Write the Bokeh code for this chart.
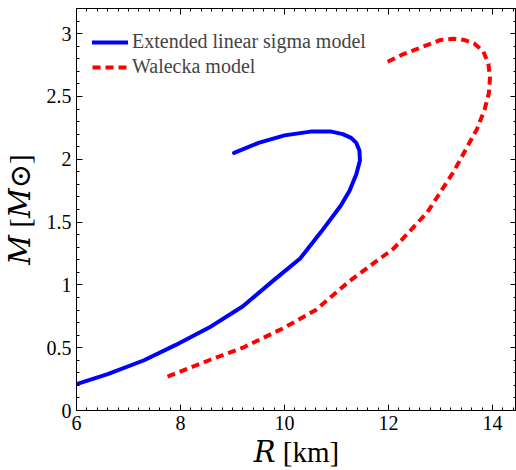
from bokeh.plotting import figure
from bokeh.models import Range1d, SingleIntervalTicker, LinearAxis, Legend, LegendItem
from bokeh.embed import file_html
from bokeh.resources import INLINE

# ---- data ----
sigma_R = [6.0, 6.6, 7.3, 7.9, 8.55, 9.2, 9.8, 10.3, 10.7, 11.08, 11.25, 11.38, 11.45, 11.44, 11.38, 11.28, 11.12, 10.9, 10.5, 10.0, 9.5, 9.03]
sigma_M = [0.21, 0.29, 0.40, 0.52, 0.66, 0.83, 1.04, 1.21, 1.42, 1.63, 1.75, 1.88, 1.99, 2.07, 2.13, 2.17, 2.20, 2.22, 2.22, 2.19, 2.13, 2.05]

walecka_R = [7.75, 8.55, 9.2, 10.0, 10.6, 11.25, 12.1, 12.75, 13.25, 13.7, 13.85, 13.93, 13.95, 13.92, 13.82, 13.65, 13.45, 13.25, 13.0, 12.75, 12.25, 11.9]
walecka_M = [0.27, 0.40, 0.50, 0.66, 0.80, 1.03, 1.29, 1.58, 1.90, 2.24, 2.40, 2.53, 2.65, 2.76, 2.86, 2.92, 2.95, 2.96, 2.95, 2.91, 2.83, 2.76]

y_ticks = [0, 0.5, 1, 1.5, 2, 2.5, 3]
y_tick_labels = ["0", "0.5", "1", "1.5", "2", "2.5", "3"]
legend_labels = ["Extended linear sigma model", "Walecka model"]
x_title = "\U0001D445 [km]"
y_title = "\U0001D440 [\U0001D440\u2299]"

SERIF = "Liberation Serif"
TITLE_FONT = "'Liberation Serif', 'DejaVu Serif', serif"

p = figure(width=516, height=470, output_backend="svg", toolbar_location=None,
           x_range=Range1d(6, 14.46), y_range=Range1d(0, 3.2),
           min_border_left=76, min_border_right=0, min_border_top=8, min_border_bottom=57)
p.background_fill_color = "white"
p.border_fill_color = "white"
p.outline_line_color = "black"
p.outline_line_width = 1
p.grid.visible = False

def style_axis(ax, interval, nminor, labels=True):
    ax.ticker = SingleIntervalTicker(interval=interval, num_minor_ticks=nminor)
    ax.axis_line_color = "black"
    ax.major_tick_in = 6
    ax.major_tick_out = 0
    ax.minor_tick_in = 3
    ax.minor_tick_out = 0
    ax.major_tick_line_color = "black"
    ax.minor_tick_line_color = "black"
    if labels:
        ax.major_label_text_font = SERIF
        ax.major_label_text_font_size = "20px"
        ax.major_label_text_color = "black"
        ax.axis_label_text_font = TITLE_FONT
        ax.axis_label_text_font_size = "29px"
        ax.axis_label_text_font_style = "normal"
        ax.axis_label_text_color = "black"
    else:
        ax.major_label_text_font_size = "0px"
        ax.major_label_text_color = None
        ax.major_label_standoff = 0
        ax.axis_label_standoff = 0
        ax.axis_label_text_font_size = "0px"
        ax.axis_label_text_color = None

style_axis(p.xaxis[0], 2, 10)
p.xaxis[0].major_label_standoff = 5
p.xaxis[0].axis_label = x_title
p.xaxis[0].axis_label_standoff = 3
style_axis(p.yaxis[0], 0.5, 5)
p.yaxis[0].major_label_standoff = 5
p.yaxis[0].major_label_overrides = {t: s for t, s in zip(y_ticks, y_tick_labels)}
p.yaxis[0].axis_label = y_title
p.yaxis[0].axis_label_standoff = 8

top = LinearAxis()
style_axis(top, 2, 10, labels=False)
p.add_layout(top, "above")
right = LinearAxis()
style_axis(right, 0.5, 5, labels=False)
p.add_layout(right, "right")

r1 = p.line(sigma_R, sigma_M, line_color="#0000ff", line_width=4, line_join="round", line_cap="round")
r2 = p.line(walecka_R, walecka_M, line_color="#ff0000", line_width=4, line_dash="8 5")

legend = Legend(items=[LegendItem(label=legend_labels[0], renderers=[r1]),
                       LegendItem(label=legend_labels[1], renderers=[r2])],
                location=(16, 332), padding=0, margin=0, spacing=2,
                glyph_width=36, glyph_height=20, label_height=20, label_standoff=4,
                label_text_font=SERIF, label_text_font_size="20px",
                background_fill_alpha=0, border_line_color=None)
p.add_layout(legend, "center")

open("out.html", "w").write(file_html(p, INLINE))
